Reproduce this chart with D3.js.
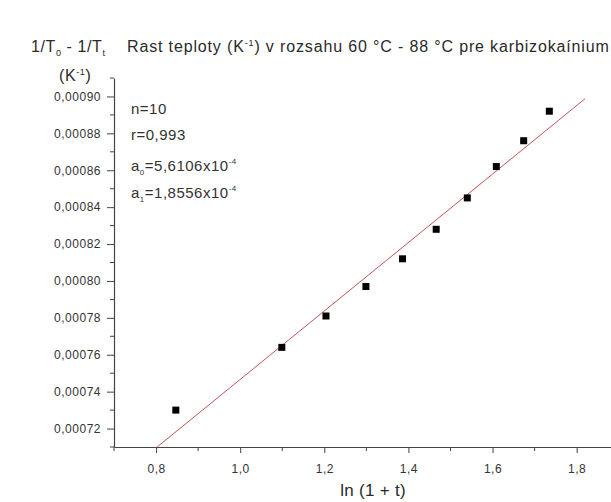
<!DOCTYPE html>
<html>
<head>
<meta charset="utf-8">
<script src="https://cdn.jsdelivr.net/npm/d3@7"></script>
<style>
  body { margin: 0; background: #fff; overflow: hidden; }
  text { font-family: "Liberation Sans", Arial, sans-serif; }
</style>
</head>
<body>
<div id="wrap"></div>
<script>
// data
var lnX = [0.847, 1.099, 1.204, 1.299, 1.386, 1.466, 1.540, 1.609, 1.674, 1.735];
var invT = [0.000730, 0.000764, 0.000781, 0.000797, 0.000812, 0.000828, 0.000845, 0.000862, 0.000876, 0.000892];
var fitA0 = 5.6106e-4, fitA1 = 1.8556e-4;
var fitRange = [0.8, 1.82];
var xMajor = [0.8, 1.0, 1.2, 1.4, 1.6, 1.8];
var xMinor = [0.7, 0.9, 1.1, 1.3, 1.5, 1.7, 1.9];
var yMajor = [0.00072, 0.00074, 0.00076, 0.00078, 0.00080, 0.00082, 0.00084, 0.00086, 0.00088, 0.00090];
var yMinor = [0.00071, 0.00073, 0.00075, 0.00077, 0.00079, 0.00081, 0.00083, 0.00085, 0.00087, 0.00089, 0.00091];

var W = 611, H = 502;
var svg = d3.select('#wrap').append('svg')
  .attr('width', W).attr('height', H);

var x = d3.scaleLinear().domain([0.7, 2.0]).range([114, 114 + 1.3 * 420.6]);
var y = d3.scaleLinear().domain([0.00071, 0.00091]).range([447, 78]);

var comma = function(f){ return function(d){ return f(d).replace('.', ','); }; };
var axisCol = '#444';

//x axis
var gx = svg.append('g').attr('transform', 'translate(0,' + y(0.00071) + ')');
gx.call(d3.axisBottom(x).tickValues(xMajor).tickSize(6).tickSizeOuter(0).tickPadding(11).tickFormat(comma(d3.format('.1f'))));
gx.selectAll('.minor').data(xMinor).enter().append('line')
  .attr('class', 'minor')
  .attr('x1', function(d){ return x(d); }).attr('x2', function(d){ return x(d); })
  .attr('y1', 0).attr('y2', 4).attr('stroke', axisCol);
//y axis
var gy = svg.append('g').attr('transform', 'translate(' + x(0.7) + ',0)');
gy.call(d3.axisLeft(y).tickValues(yMajor).tickSize(7).tickSizeOuter(0).tickPadding(6).tickFormat(comma(d3.format('.5f'))));
gy.selectAll('.minor').data(yMinor).enter().append('line')
  .attr('class', 'minor')
  .attr('y1', function(d){ return y(d); }).attr('y2', function(d){ return y(d); })
  .attr('x1', 0).attr('x2', -4).attr('stroke', axisCol);

[gx, gy].forEach(function(g){
  g.select('.domain').attr('stroke', axisCol).attr('stroke-width', 1.2);
  g.selectAll('.tick line').attr('stroke', axisCol);
  g.selectAll('.tick text').attr('fill', '#333').style('font-size', '12px').style('letter-spacing', '0.5px');
});

//fit line
var clipY0 = (0.00071 - fitA0) / fitA1;
svg.append('line')
  .attr('x1', x(Math.max(fitRange[0], clipY0))).attr('y1', y(fitA0 + fitA1 * Math.max(fitRange[0], clipY0)))
  .attr('x2', x(fitRange[1])).attr('y2', y(fitA0 + fitA1 * fitRange[1]))
  .attr('stroke', '#c25555').attr('stroke-width', 1);

//points
svg.selectAll('.pt').data(lnX).enter().append('rect')
  .attr('class', 'pt')
  .attr('x', function(d){ return x(d) - 3.5; })
  .attr('y', function(d, i){ return y(invT[i]) - 3.5; })
  .attr('width', 7).attr('height', 7)
  .attr('fill', '#000');

//titles
var tf = svg.append('g').attr('fill', '#2a2a2a').style('font-size', '16px').style('letter-spacing', '0.6px');
var t1 = tf.append('text').attr('x', 31).attr('y', 52);
t1.append('tspan').text('1/T');
t1.append('tspan').attr('dy', 4).style('font-size', '9px').text('0');
t1.append('tspan').attr('dy', -4).text(' - 1/T');
t1.append('tspan').attr('dy', 4).style('font-size', '9px').text('t');

var t2 = tf.append('text').attr('x', 127).attr('y', 52).style('letter-spacing', '0.85px');
t2.append('tspan').text('Rast teploty (K');
t2.append('tspan').attr('dy', -6).style('font-size', '9px').text('-1');
t2.append('tspan').attr('dy', 6).text(') v rozsahu 60 °C - 88 °C pre karbizokaínium');

var t3 = tf.append('text').attr('x', 59).attr('y', 81);
t3.append('tspan').text('(K');
t3.append('tspan').attr('dy', -6).style('font-size', '9px').text('-1');
t3.append('tspan').attr('dy', 6).text(')');

tf.append('text').attr('x', x(1.316)).attr('y', 496).attr('text-anchor', 'middle')
  .style('font-size', '17px').style('letter-spacing', '0.3px').text('ln (1 + t)');

//stats
var st = svg.append('g').attr('fill', '#333').style('font-size', '15px').style('letter-spacing', '0.5px');
st.append('text').attr('x', 131).attr('y', 114).text('n=10');
st.append('text').attr('x', 131).attr('y', 140).text('r=0,993');
var a0 = st.append('text').attr('x', 131).attr('y', 171);
a0.append('tspan').text('a');
a0.append('tspan').attr('dy', 4).style('font-size', '8px').text('0');
a0.append('tspan').attr('dy', -4).text('=5,6106x10');
a0.append('tspan').attr('dy', -7).style('font-size', '8px').text('-4');
var a1 = st.append('text').attr('x', 131).attr('y', 198);
a1.append('tspan').text('a');
a1.append('tspan').attr('dy', 4).style('font-size', '8px').text('1');
a1.append('tspan').attr('dy', -4).text('=1,8556x10');
a1.append('tspan').attr('dy', -7).style('font-size', '8px').text('-4');
</script>
</body>
</html>
